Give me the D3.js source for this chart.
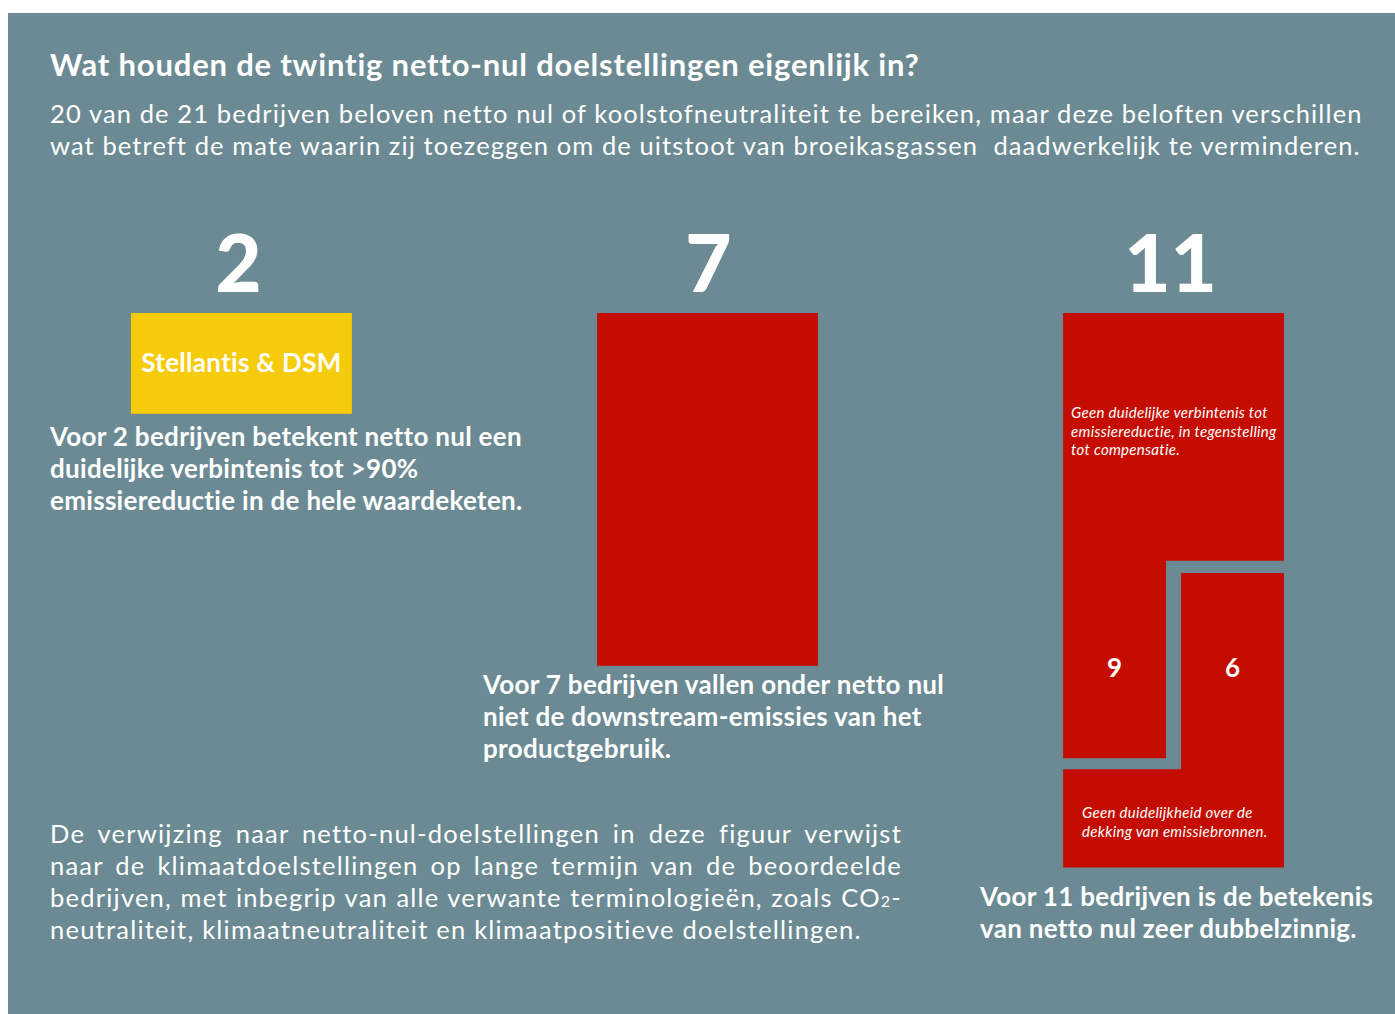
<!DOCTYPE html>
<html>
<head>
<meta charset="utf-8">
<script src="https://cdn.jsdelivr.net/npm/d3@7"></script>
<style>
  html, body { margin: 0; padding: 0; background: #ffffff; }
  svg { display: block; }
  text { font-family: Lato, "Open Sans", sans-serif; fill: #ffffff; }
</style>
</head>
<body>
<svg id="chart" width="1395" height="1014"></svg>
<script>
// ---------- DATA ----------
const counts = [2, 7, 11];
const boxLabels = ["Stellantis & DSM", "", ""];
const boxColors = ["#f6cb0a", "#c40d00", "#c40d00"];
const captions = [
  ["Voor 2 bedrijven betekent netto nul een", "duidelijke verbintenis tot >90%", "emissiereductie in de hele waardeketen."],
  ["Voor 7 bedrijven vallen onder netto nul", "niet de downstream-emissies van het", "productgebruik."],
  ["Voor 11 bedrijven is de betekenis", "van netto nul zeer dubbelzinnig."]
];
const subCounts = [9, 6];
const subNotes = [
  ["Geen duidelijke verbintenis tot", "emissiereductie, in tegenstelling", "tot compensatie."],
  ["Geen duidelijkheid over de", "dekking van emissiebronnen."]
];
const titleText = "Wat houden de twintig netto-nul doelstellingen eigenlijk in?";
const subtitleLines = [
  "20 van de 21 bedrijven beloven netto nul of koolstofneutraliteit te bereiken, maar deze beloften verschillen",
  "wat betreft de mate waarin zij toezeggen om de uitstoot van broeikasgassen  daadwerkelijk te verminderen."
];
const footnoteLines = [
  "De verwijzing naar netto-nul-doelstellingen in deze figuur verwijst",
  "naar de klimaatdoelstellingen op lange termijn van de beoordeelde",
  "bedrijven, met inbegrip van alle verwante terminologieën, zoals CO|2|-",
  "neutraliteit, klimaatneutraliteit en klimaatpositieve doelstellingen."
];

// ---------- LAYOUT ----------
const W = 1395, H = 1014;
const svg = d3.select("#chart");
const BG = "#6c8a93";

svg.append("rect").attr("x", 8).attr("y", 13).attr("width", W - 8).attr("height", H - 13).attr("fill", BG);

function fitWidth(sel, target) {
  sel.attr("letter-spacing", 0);
  const w = sel.node().getComputedTextLength();
  const n = sel.text().length;
  const ls = n > 1 ? (target - w) / (n - 1) : 0;
  sel.attr("letter-spacing", ls);
  return ls;
}

// Title
const title = svg.append("text").attr("x", 50).attr("y", 76)
  .attr("font-size", 31).attr("font-weight", 700).text(titleText);
fitWidth(title, 868);

// Subtitle
subtitleLines.forEach((s, i) => {
  const t = svg.append("text").attr("x", 50).attr("y", 123 + i * 32)
    .attr("font-size", 25.5).attr("font-weight", 400)
    .style("white-space", "pre").text(s);
  fitWidth(t, i === 0 ? 1310 : 1309);
});

// Scales
const x = d3.scaleBand().domain(d3.range(counts.length)).range([131, 1284]).paddingInner(0.526).paddingOuter(0);
const bw = x.bandwidth();
const topY = 313;
const h = d3.scaleLinear().domain([0, 1]).range([0, 50.4]);

// Big numbers
svg.selectAll("text.big").data(counts).join("text")
  .attr("class", "big")
  .attr("x", (d, i) => x(i) + bw / 2 - (i === 1 ? -1 : 3))
  .attr("y", 292)
  .attr("text-anchor", "middle")
  .attr("font-size", 80).attr("font-weight", 900)
  .text(d => d);

// Boxes for 2 and 7
svg.selectAll("rect.box").data(counts.slice(0, 2)).join("rect")
  .attr("class", "box")
  .attr("x", (d, i) => x(i)).attr("y", topY)
  .attr("width", bw).attr("height", d => h(d))
  .attr("fill", (d, i) => boxColors[i]);

// Box label
svg.append("text").attr("x", x(0) + bw / 2).attr("y", 372)
  .attr("text-anchor", "middle").attr("font-size", 26).attr("font-weight", 700)
  .attr("letter-spacing", 0.3)
  .text(boxLabels[0]);

// 11 box split into two interlocking L shapes
const x0 = x(2), x1 = x(2) + bw, H11 = h(counts[2]), y1 = topY + H11;
const xl = x0 + bw * 0.466, xr = x0 + bw * 0.534;
const ya = topY + H11 * 0.447, yb = topY + H11 * 0.469;
const yc = topY + H11 * 0.803, yd = topY + H11 * 0.823;
const shapes = [
  [[x0, topY], [x1, topY], [x1, ya], [xl, ya], [xl, yc], [x0, yc]],
  [[xr, yb], [x1, yb], [x1, y1], [x0, y1], [x0, yd], [xr, yd]]
];
svg.selectAll("path.lshape").data(shapes).join("path")
  .attr("class", "lshape")
  .attr("d", d => d3.line()(d) + "Z")
  .attr("fill", boxColors[2]);

// sub count numbers
const subX = [(x0 + xl) / 2, (xr + x1) / 2];
svg.selectAll("text.sub").data(subCounts).join("text")
  .attr("class", "sub")
  .attr("x", (d, i) => subX[i]).attr("y", 677)
  .attr("text-anchor", "middle").attr("font-size", 26).attr("font-weight", 700)
  .text(d => d);

// italic notes
const noteX = [x0 + 8, x0 + 19];
const noteY = [418, 818];
subNotes.forEach((lines, i) => {
  svg.append("text").attr("font-size", 15).attr("font-style", "italic")
    .attr("letter-spacing", 0.3)
    .selectAll("tspan").data(lines).join("tspan")
    .attr("x", noteX[i]).attr("y", (d, j) => noteY[i] + j * 18.5)
    .text(d => d);
});

// Captions
const capX = [50, 483, 980];
const capY = [446, 694, 906];
captions.forEach((lines, i) => {
  svg.append("text").attr("font-size", 26).attr("font-weight", 700)
    .attr("letter-spacing", 0.3)
    .selectAll("tspan").data(lines).join("tspan")
    .attr("x", capX[i]).attr("y", (d, j) => capY[i] + j * 32)
    .text(d => d);
});

// Footnote (justified)
const fnX = 50, fnW = 852, fnLast = 811;
const fnTexts = footnoteLines.map((line, i) => {
  const t = svg.append("text").attr("x", fnX).attr("y", 843 + i * 32)
    .attr("font-size", 25.5).attr("font-weight", 400);
  line.split("|").forEach((p, k) => {
    const ts = t.append("tspan").text(p);
    if (k === 1) ts.attr("font-size", 16);
  });
  return t;
});
// letter spacing from last (unjustified) line
const lastT = fnTexts[fnTexts.length - 1];
const lastW = lastT.node().getComputedTextLength();
const lastN = footnoteLines[footnoteLines.length - 1].length;
const fnLS = (fnLast - lastW) / (lastN - 1);
fnTexts.forEach((t, i) => {
  t.attr("letter-spacing", fnLS);
  if (i < fnTexts.length - 1) {
    const w = t.node().getComputedTextLength();
    const spaces = (footnoteLines[i].match(/ /g) || []).length;
    t.attr("word-spacing", (fnW - w) / spaces);
  }
});
</script>
</body>
</html>
